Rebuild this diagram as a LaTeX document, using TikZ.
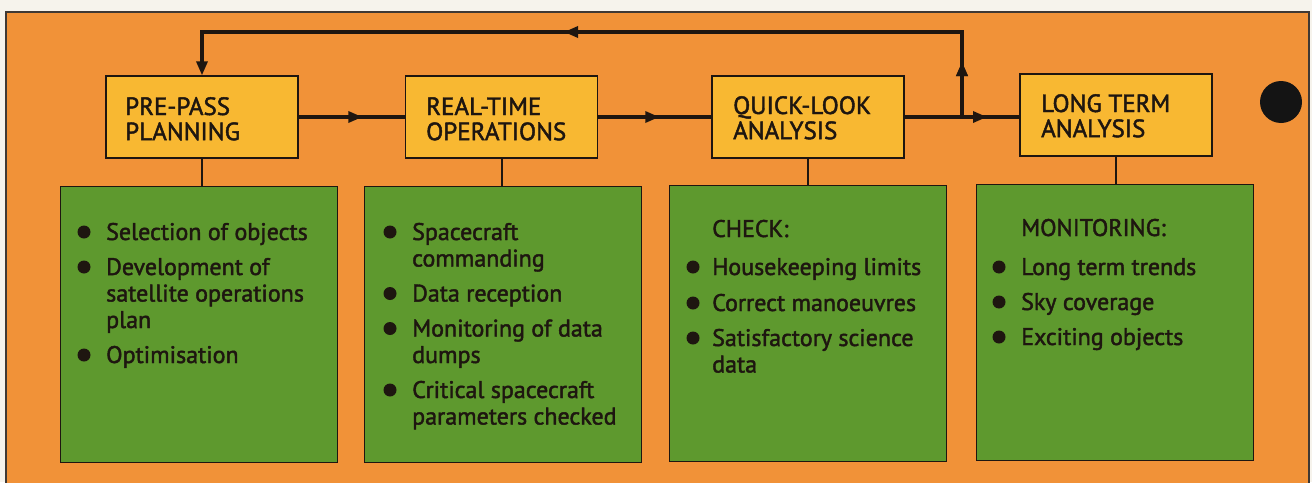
\documentclass[tikz,border=0pt]{standalone}
\usepackage{fontspec}
\setmainfont{PT Sans}[FakeBold=1.8]
\usetikzlibrary{arrows.meta,decorations.markings}

\definecolor{paper}{RGB}{246,243,236}
\definecolor{panel}{RGB}{241,146,56}
\definecolor{stagefill}{RGB}{248,184,50}
\definecolor{taskfill}{RGB}{94,153,46}
\definecolor{ink}{RGB}{30,22,16}

\renewcommand\arraystretch{1}

% one bulleted entry of a task panel: name, bullet x, text x, first baseline, lines
\newcommand\taskitem[5]{%
  \node[bulletdot] (#1-dot) at (#2,#4-8) {};
  \node[listtext, anchor=base west] (#1) at (#3,#4)
    {\begin{tabular}[t]{@{}l@{}}#5\end{tabular}};
}

\begin{document}
\begin{tikzpicture}[x=1pt,y=-1pt,
  stagebox/.style={draw=ink, line width=1.3pt, fill=stagefill,
    minimum width=192pt, minimum height=82pt, inner sep=0pt},
  stagelabel/.style={inner sep=0pt, text=ink, anchor=base west,
    font=\fontsize{25}{24.5}\selectfont},
  taskbox/.style={draw=ink, line width=1.3pt, fill=taskfill,
    minimum width=277pt, minimum height=276pt, inner sep=0pt},
  listtext/.style={inner sep=0pt, text=ink,
    font=\fontsize{24}{26.5}\selectfont},
  bulletdot/.style={circle, fill=ink, minimum size=13pt, inner sep=0pt},
  flow/.style={draw=ink, line width=3.2pt, line join=miter},
  tip/.style={-{Triangle[length=14pt,width=11pt]}},
  midtip/.style={postaction=decorate, decoration={markings,
    mark=at position #1 with {\arrow{Triangle[length=14pt,width=11pt]}}}},
]
\useasboundingbox (0,0) rectangle (1312,482);
\fill[paper] (0,0) rectangle (1312,482);
\filldraw[fill=panel, draw=ink!85, line width=1.2pt] (6,12) rectangle (1309,492);

% the four stages
\node[stagebox] (pp) at (202,117) {};
\node[stagebox] (rt) at (501.5,117) {};
\node[stagebox] (ql) at (808,117) {};
\node[stagebox] (lt) at (1116,115) {};
\node[stagelabel] (ppl) at (125,115) {\begin{tabular}[t]{@{}l@{}}PRE-PASS\\PLANNING\end{tabular}};
\node[stagelabel] (rtl) at (426,115) {\begin{tabular}[t]{@{}l@{}}REAL-TIME\\OPERATIONS\end{tabular}};
\node[stagelabel] (qll) at (733,114) {\begin{tabular}[t]{@{}l@{}}QUICK-LOOK\\ANALYSIS\end{tabular}};
\node[stagelabel] (ltl) at (1041,112) {\begin{tabular}[t]{@{}l@{}}LONG TERM\\ANALYSIS\end{tabular}};

% the task panels under them
\node[taskbox] (t1) at (199,324.5) {};
\node[taskbox] (t2) at (503,324.5) {};
\node[taskbox] (t3) at (808,323.5) {};
\node[taskbox] (t4) at (1115,322.5) {};

\foreach \s/\t in {pp/t1, rt/t2, ql/t3, lt/t4}
  \draw[ink, line width=2pt] (\s.south) -- (\s.south |- \t.north);

% flow between stages, with the feedback loop to planning
\coordinate (j) at (962,117);
\coordinate (tr) at (962,32);
\coordinate (tl) at (pp.north |- tr);
\draw[flow, midtip=0.6] (pp) -- (rt);
\draw[flow, midtip=0.54] (rt) -- (ql);
\draw[flow] (ql.east |- j) -- (j);
\draw[flow, midtip=25pt] (j) -- (lt.west |- j);
\draw[flow, tip, midtip=55pt, postaction={decorate, decoration={markings,
    mark=at position 483pt with {\arrow{Triangle[length=14pt,width=11pt]}}}}]
  (j) -- (tr) -- (tl) -- (pp.north);

% punched hole
\node[circle, fill=black!92, minimum size=42pt, inner sep=0pt] (hole) at (1281,102) {};

% task lists
\taskitem{a1}{84}{106}{240}{Selection of objects}
\taskitem{a2}{84}{106}{275}{Development of\\satellite operations\\plan}
\taskitem{a3}{84}{106}{363}{Optimisation}

\taskitem{b1}{390}{412}{240}{Spacecraft\\commanding}
\taskitem{b2}{390}{412}{301.5}{Data reception}
\taskitem{b3}{390}{412}{336.5}{Monitoring of data\\dumps}
\taskitem{b4}{390}{412}{398}{Critical spacecraft\\parameters checked}

\node[listtext, anchor=base west] (c0) at (712,237) {CHECK:};
\taskitem{c1}{693}{712}{275}{Housekeeping limits}
\taskitem{c2}{693}{712}{311}{Correct manoeuvres}
\taskitem{c3}{693}{712}{346}{Satisfactory science\\data}

\node[listtext, anchor=base west] (d0) at (1021,236) {MONITORING:};
\taskitem{d1}{999}{1021}{275}{Long term trends}
\taskitem{d2}{999}{1021}{310}{Sky coverage}
\taskitem{d3}{999}{1021}{345}{Exciting objects}
\end{tikzpicture}
\end{document}
